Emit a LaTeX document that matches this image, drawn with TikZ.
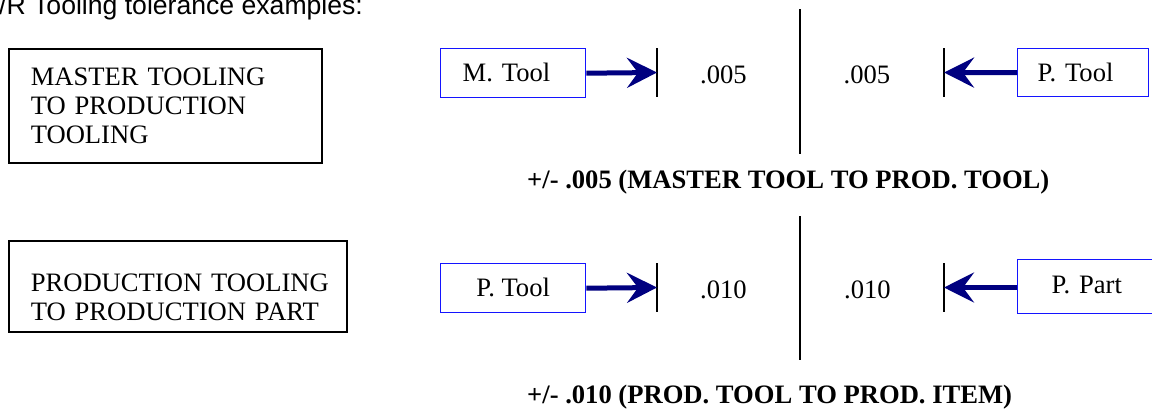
\documentclass[tikz,border=0pt]{standalone}
\usepackage{fontspec}
\setmainfont{Liberation Serif}
\newfontfamily\titlefont{Liberation Sans}
\usetikzlibrary{arrows.meta}
\definecolor{navyblue}{RGB}{0,0,128}
\definecolor{boxblue}{RGB}{20,20,255}
\begin{document}
\begin{tikzpicture}[x=1pt,y=-1pt,
  every node/.style={font=\fontsize{26.6}{29}\selectfont},
  bigbox/.style={draw=black, line width=1.6pt, anchor=north west, align=left,
     inner xsep=22pt, inner ysep=0pt},
  toolbox/.style={draw=boxblue, line width=1.4pt, anchor=north west, inner ysep=0pt},
  navyarrow/.style={draw=navyblue, line width=5pt,
     -{Stealth[length=30pt,width=30pt,inset=11pt]}},
  tickline/.style={draw=black, line width=1.4pt},
  midline/.style={draw=black, line width=1.8pt},
  dimtext/.style={anchor=base, inner sep=0pt},
  caption/.style={anchor=base west, inner sep=0pt, font=\fontsize{26.6}{29}\selectfont\bfseries}
]
\useasboundingbox (0,0) rectangle (1152,410);

% title (cut at the top edge)
\node[anchor=base west, inner sep=0pt, font=\fontsize{26.6}{29}\selectfont\titlefont] (title) at (-1,14.5) {/R Tooling tolerance examples:};

% ---------- row 1 ----------
\node[bigbox, text width=269pt, minimum height=114pt] (master) at (8,48)
  {\mbox{MASTER TOOLING}\\\mbox{TO PRODUCTION}\\TOOLING};

\node[toolbox, align=left, inner xsep=22pt, text width=101pt, minimum height=49pt, text depth=1.5pt] (mtool) at (440,48) {M. Tool};
\node[toolbox, align=left, inner xsep=20pt, text width=91pt, minimum height=48pt, text depth=1.5pt] (ptool1) at (1017,48) {P. Tool};

\coordinate (t1) at (657,72.5);
\coordinate (t2) at (944,72.5);
\draw[tickline] ([yshift=24.5pt]t1) -- ([yshift=-24.5pt]t1);
\draw[tickline] ([yshift=24.5pt]t2) -- ([yshift=-24.5pt]t2);
\draw[navyarrow] (mtool.east) -- (t1);
\draw[navyarrow] (ptool1.west) -- (t2);

\node[dimtext] (d1) at (723.5,83) {.005};
\node[dimtext] (d2) at (867,83) {.005};

\coordinate (m1top) at (800,9);
\coordinate (m1bot) at (800,154);
\draw[midline] (m1top) -- (m1bot);

\node[caption] (cap1) at (527,188) {+/- .005 (MASTER TOOL TO PROD. TOOL)};

% ---------- row 2 ----------
\node[bigbox, text width=294pt, minimum height=91pt, text depth=8pt] (prod) at (8,240)
  {\mbox{PRODUCTION TOOLING}\\\mbox{TO PRODUCTION PART}};

\node[toolbox, align=center, minimum width=145pt, minimum height=49pt, text depth=1.5pt] (ptool2) at (440,263) {P. Tool};
\node[toolbox, align=left, inner xsep=34pt, text width=109pt, minimum height=54pt, text depth=3pt] (ppart) at (1017,259) {P. Part};

\coordinate (t3) at (657,287.5);
\coordinate (t4) at (944,287.5);
\draw[tickline] ([yshift=24.5pt]t3) -- ([yshift=-24.5pt]t3);
\draw[tickline] ([yshift=24.5pt]t4) -- ([yshift=-24.5pt]t4);
\draw[navyarrow] (ptool2.east) -- (t3);
\draw[navyarrow] (ppart.west |- t4) -- (t4);

\node[dimtext] (d3) at (723.5,298) {.010};
\node[dimtext] (d4) at (867.5,298) {.010};

\coordinate (m2top) at (800,216);
\coordinate (m2bot) at (800,360);
\draw[midline] (m2top) -- (m2bot);

\node[caption] (cap2) at (527,403) {+/- .010 (PROD. TOOL TO PROD. ITEM)};
\end{tikzpicture}
\end{document}
